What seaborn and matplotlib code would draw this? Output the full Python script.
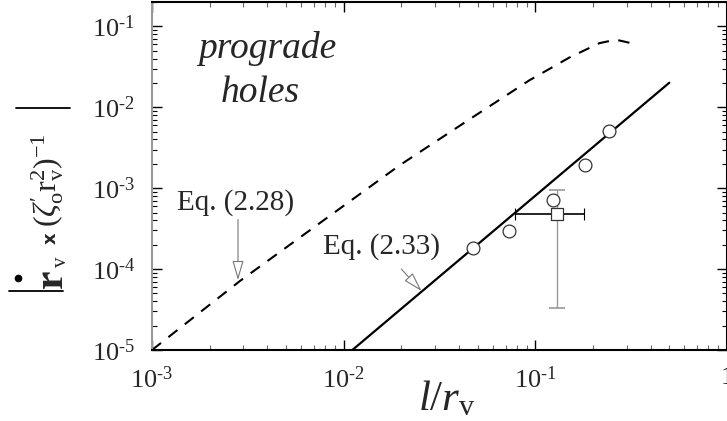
import matplotlib
matplotlib.use("Agg")
import matplotlib.pyplot as plt
import seaborn as sns
import pandas as pd
from matplotlib.lines import Line2D
from matplotlib.ticker import LogLocator, NullFormatter, FixedLocator, FixedFormatter

# Eq. (2.28): growth rate curve (dashed)
eq228_x = [1.0e-3, 2.87e-3, 7.5e-3, 1.96e-2, 4.7e-2, 9.3e-2, 0.150, 0.216, 0.252, 0.274, 0.316]
eq228_y = [1.0e-5, 7.1e-5, 3.7e-4, 1.92e-3, 7.5e-3, 2.15e-2, 4.1e-2, 6.2e-2, 6.7e-2, 6.7e-2, 6.2e-2]

# Eq. (2.33): small-hole power law (solid)
eq233_x = [0.0111, 0.50]
eq233_y = [1.0e-5, 2.01e-2]

# measured prograde holes (open circles)
hole_x = [0.0475, 0.0726, 0.123, 0.182, 0.241]
hole_y = [1.80e-4, 2.97e-4, 7.1e-4, 1.91e-3, 5.09e-3]

# averaged measurement with ranges (open square)
sq_x = [0.1297]
sq_y = [4.73e-4]
sq_x_lo, sq_x_hi = [0.0779], [0.180]
sq_y_lo, sq_y_hi = [3.27e-5], [9.45e-4]

xtick_vals = [1e-3, 1e-2, 1e-1, 1.0]
xtick_labels = [r"$10^{\text{-}3}$", r"$10^{\text{-}2}$", r"$10^{\text{-}1}$", "1"]
ytick_vals = [1e-5, 1e-4, 1e-3, 1e-2, 1e-1]
ytick_labels = [r"$10^{\text{-}5}$", r"$10^{\text{-}4}$", r"$10^{\text{-}3}$",
                r"$10^{\text{-}2}$", r"$10^{\text{-}1}$"]

sns.set_style("ticks")
plt.rcParams["font.family"] = ["Liberation Serif", "DejaVu Serif"]
plt.rcParams["mathtext.fontset"] = "custom"
plt.rcParams["mathtext.rm"] = "Liberation Serif"
plt.rcParams["mathtext.it"] = "Liberation Serif:italic"
plt.rcParams["mathtext.bf"] = "Liberation Serif:bold"

W, H = 727, 421
fig = plt.figure(figsize=(W / 100, H / 100), dpi=100)
fig.patch.set_facecolor("white")
ax = fig.add_axes([152 / W, 71 / H, (W - 152) / W, 348 / H])
ax.set_xscale("log")
ax.set_yscale("log")
ax.set_xlim(1e-3, 1.0)
ax.set_ylim(1e-5, 0.2)

# curves
sns.lineplot(x=eq228_x, y=eq228_y, ax=ax, color="black", lw=1.5, sort=False,
             estimator=None)
ax.lines[-1].set_dashes((5.5, 4.5))
sns.lineplot(x=eq233_x, y=eq233_y, ax=ax, color="black", lw=1.6, sort=False,
             estimator=None)

# square with its horizontal and vertical ranges
xe = [[sq_x[0] - sq_x_lo[0]], [sq_x_hi[0] - sq_x[0]]]
ye = [[sq_y[0] - sq_y_lo[0]], [sq_y_hi[0] - sq_y[0]]]
_, capl, _ = ax.errorbar(sq_x, sq_y, xerr=xe, fmt="none", ecolor="black",
                         elinewidth=1.2, capsize=4.3, capthick=0.8, zorder=3)
for c in capl:
    c.set_color("#888888")
_, capl, _ = ax.errorbar(sq_x, sq_y, yerr=ye, fmt="none", ecolor="#999999",
                         elinewidth=1.0, capsize=5.8, capthick=1.2, zorder=3)
for c in capl:
    c.set_color("black")

sns.scatterplot(x=sq_x, y=sq_y, ax=ax, marker="s", s=72, facecolor="white",
                edgecolor="#333333", linewidth=0.9, zorder=5)
sns.scatterplot(x=hole_x, y=hole_y, ax=ax, marker="o", s=85, facecolor="white",
                edgecolor="#333333", linewidth=0.9, zorder=5)

# axes styling
ax.xaxis.set_major_locator(FixedLocator(xtick_vals))
ax.xaxis.set_major_formatter(FixedFormatter(xtick_labels))
ax.yaxis.set_major_locator(FixedLocator(ytick_vals))
ax.yaxis.set_major_formatter(FixedFormatter(ytick_labels))
ax.xaxis.set_minor_locator(LogLocator(base=10, subs=range(2, 10), numticks=20))
ax.yaxis.set_minor_locator(LogLocator(base=10, subs=range(2, 10), numticks=20))
ax.xaxis.set_minor_formatter(NullFormatter())
ax.yaxis.set_minor_formatter(NullFormatter())
ax.tick_params(which="both", direction="in", top=True, right=True,
               color="black", labelsize=19)
ax.tick_params(which="major", length=7.2, width=1.0)
ax.tick_params(which="minor", length=3.6, width=0.8)
ax.tick_params(axis="x", which="minor", color="#666666")
ax.tick_params(axis="x", which="major", pad=12)
ax.tick_params(axis="y", which="major", pad=12)
for side in ["top", "bottom", "right"]:
    ax.spines[side].set_color("black")
    ax.spines[side].set_linewidth(1.5)
ax.spines["left"].set_color("#999999")
ax.spines["left"].set_linewidth(1.5)

# annotations
ax.text(1.35e-3, 5.5e-4, "Eq. (2.28)", fontsize=21, ha="left", va="baseline")
ax.annotate("", xy=(2.81e-3, 7.3e-5), xytext=(2.81e-3, 4.1e-4),
            arrowprops=dict(arrowstyle="-|>,head_length=1.2,head_width=0.35",
                            mutation_scale=10, fc="white", ec="#777777", lw=0.8,
                            shrinkA=0, shrinkB=0))
ax.text(7.78e-3, 1.53e-4, "Eq. (2.33)", fontsize=21, ha="left", va="baseline")
ax.annotate("", xy=(0.0255, 5.35e-5), xytext=(0.0200, 1.0e-4),
            arrowprops=dict(arrowstyle="-|>,head_length=1.2,head_width=0.35",
                            mutation_scale=10, fc="white", ec="#777777", lw=0.8,
                            shrinkA=0, shrinkB=0))
ax.text(0.200, 0.839, "prograde", transform=ax.transAxes, fontsize=27,
        style="italic", ha="center", va="baseline")
ax.text(0.188, 0.714, "holes", transform=ax.transAxes, fontsize=27,
        style="italic", ha="center", va="baseline")

# x-axis label
fig.text(447 / W, 1 - 410 / H, r"$\it{l/r}_{\mathrm{v}}$", fontsize=31,
         ha="center", va="baseline")


def fx(px):
    return px / W


def fy(py):
    return 1 - py / H


# y-axis label, written bottom to top
fig.text(fx(63), fy(290), r"$\mathbf{r}$", fontsize=30, rotation=90,
         rotation_mode="anchor", ha="left", va="baseline")
fig.add_artist(Line2D([fx(18)], [fy(278)], marker="o", ms=4.5, color="black",
                      transform=fig.transFigure))
fig.text(fx(66), fy(267), "v", fontsize=15, rotation=90,
         rotation_mode="anchor", ha="left", va="baseline")
fig.text(fx(51), fy(238), "x", fontsize=13, fontweight="bold",
         family="DejaVu Sans", rotation=90, rotation_mode="anchor",
         ha="center", va="center")
fig.text(fx(56), fy(227),
         r"$(\zeta^{\prime}_{\mathrm{o}}\mathrm{r}^{2}_{\mathrm{v}})^{-1}$",
         fontsize=23, rotation=90, rotation_mode="anchor", ha="left",
         va="baseline")
fig.add_artist(Line2D([fx(16), fx(70)], [fy(108), fy(108)], color="black",
                      lw=1.3, transform=fig.transFigure))
fig.add_artist(Line2D([fx(9), fx(63)], [fy(291), fy(291)], color="black",
                      lw=1.3, transform=fig.transFigure))

fig.savefig("out.png", dpi=100, facecolor="white")
